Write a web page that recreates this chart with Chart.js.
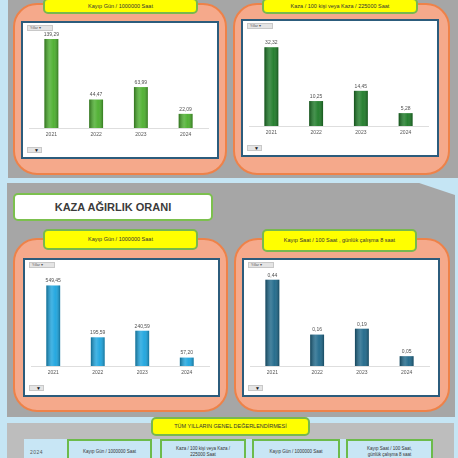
<!DOCTYPE html>
<html>
<head>
<meta charset="utf-8">
<script src="https://cdn.jsdelivr.net/npm/chart.js@4"></script>
<style>
  body { margin: 0; background: #c5e5f4; font-family: "Liberation Sans", Arial, sans-serif; }
  #page { position: relative; width: 458px; height: 458px; overflow: hidden; background: #c5e5f4; }
  .abs { position: absolute; box-sizing: border-box; }
  .panel { background: #a6a6a6; }
  .salmon { background: #f5a98b; border: 2px solid #ee8249; border-radius: 24px; }
  .yellow { background: #ffff00; border: 2px solid #78b84e; border-radius: 5px;
            font-size: 5.5px; color: #333; text-align: center; display: flex;
            align-items: center; justify-content: center; line-height: 1.2; }
  .white { background: #fff; border: 2px solid #2c5c7c; }
  .white canvas { position: absolute; left: 0; top: 0; }
  .btn { position: absolute; background: #e4e4e4; border: 1px solid #c8c8c8; font-size: 3.5px;
         color: #555; line-height: 5px; padding-left: 2px; box-sizing: border-box; }
  .flt { position: absolute; background: #e4e4e4; border: 1px solid #c8c8c8; width: 15px; height: 6px;
         font-size: 5px; line-height: 5px; text-align: right; color: #111; box-sizing: border-box; padding-right: 2px; }
  .green { background: #c8e6f5; border: 2px solid #6cbb4b; font-size: 4.5px; color: #333;
           text-align: center; display: flex; align-items: center; justify-content: center; line-height: 1.25; }
</style>
</head>
<body>
<div id="page">
  <div class="abs panel" style="left:8px;top:0;width:450px;height:178px;"></div>
  <div class="abs panel" style="left:7px;top:183px;width:448px;height:234px;clip-path:polygon(0 0,92% 0,100% 12px,100% 100%,0 100%);"></div>
  <div class="abs" style="left:7px;top:423px;width:447px;height:40px;background:#bdbdbd;"></div>

  <div class="abs salmon" style="left:13px;top:3px;width:214px;height:172px;"></div>
  <div class="abs salmon" style="left:233px;top:3px;width:217px;height:172px;"></div>
  <div class="abs salmon" style="left:13px;top:238px;width:215px;height:174px;"></div>
  <div class="abs salmon" style="left:234px;top:238px;width:216px;height:174px;"></div>

  <div class="abs white" id="w0" style="left:21px;top:21px;width:198px;height:138px;"><canvas id="c0" width="194" height="134"></canvas></div>
  <div class="abs white" id="w1" style="left:241px;top:19px;width:198px;height:138px;"><canvas id="c1" width="194" height="134"></canvas></div>
  <div class="abs white" id="w2" style="left:23px;top:258px;width:197px;height:139px;"><canvas id="c2" width="193" height="135"></canvas></div>
  <div class="abs white" id="w3" style="left:242px;top:258px;width:198px;height:139px;"><canvas id="c3" width="194" height="135"></canvas></div>

  <div class="abs yellow" id="t0" style="left:43px;top:-2px;width:155px;height:16px;"></div>
  <div class="abs yellow" id="t1" style="left:262px;top:-2px;width:156px;height:16px;"></div>
  <div class="abs yellow" id="t2" style="left:43px;top:229px;width:155px;height:21px;"></div>
  <div class="abs yellow" id="t3" style="left:262px;top:229px;width:155px;height:23px;"></div>

  <div class="abs" style="left:13px;top:193px;width:200px;height:28px;background:#fff;border:2px solid #7cc04e;border-radius:5px;
       font-family:'Liberation Sans Narrow','Liberation Sans',sans-serif;font-weight:bold;font-size:11px;color:#3b3b3b;
       display:flex;align-items:center;justify-content:center;">KAZA AĞIRLIK ORANI</div>

  <div class="abs" style="left:24px;top:439px;width:404px;height:30px;background:#c8e6f5;"></div>
  <div class="abs" style="left:30px;top:449px;font-size:5px;color:#555;letter-spacing:0.5px;">2024</div>
  <div class="abs green" id="g0" style="left:67px;top:439px;width:85px;height:26px;"></div>
  <div class="abs green" id="g1" style="left:160px;top:439px;width:86px;height:26px;"></div>
  <div class="abs green" id="g2" style="left:252px;top:439px;width:88px;height:26px;"></div>
  <div class="abs green" id="g3" style="left:346px;top:439px;width:87px;height:26px;"></div>
  <div class="abs yellow" style="left:151px;top:417px;width:159px;height:19px;font-size:5.5px;">TÜM YILLARIN GENEL DEĞERLENDİRMESİ</div>
</div>

<script>
var years = ['2021', '2022', '2023', '2024'];
var lostDaysPerMillion = [139.29, 44.47, 63.99, 22.09];
var accidentsPerHundred = [32.32, 10.25, 14.45, 5.28];
var severityDays = [549.45, 195.59, 240.59, 57.20];
var severityHours = [0.44, 0.16, 0.19, 0.05];

var chartTitles = [
    'Kayıp Gün / 1000000 Saat',
    'Kaza / 100 kişi veya Kaza / 225000 Saat',
    'Kayıp Gün / 1000000 Saat',
    'Kayıp Saat / 100 Saat , günlük çalışma 8 saat'
];
var summaryTitles = [
    'Kayıp Gün / 1000000 Saat',
    'Kaza / 100 kişi veya Kaza /<br>225000 Saat',
    'Kayıp Gün / 1000000 Saat',
    'Kayıp Saat / 100 Saat,<br>günlük çalışma 8 saat'
];

for (var t = 0; t < 4; t++) {
    document.getElementById('t' + t).textContent = chartTitles[t];
    document.getElementById('g' + t).innerHTML = summaryTitles[t];
}

// cylinder-ish shading + value labels over the bars
var barDecor = {
    id: 'barDecor',
    afterDatasetsDraw: function (chart) {
        var ctx = chart.ctx;
        var meta = chart.getDatasetMeta(0);
        var values = chart.data.datasets[0].data;
        meta.data.forEach(function (bar, i) {
            var left = bar.x - bar.width / 2;
            var g = ctx.createLinearGradient(left, 0, left + bar.width, 0);
            g.addColorStop(0, 'rgba(0,0,0,0.35)');
            g.addColorStop(0.4, 'rgba(255,255,255,0.18)');
            g.addColorStop(0.65, 'rgba(255,255,255,0.05)');
            g.addColorStop(1, 'rgba(0,0,0,0.3)');
            ctx.save();
            ctx.fillStyle = g;
            ctx.fillRect(left, bar.y, bar.width, bar.base - bar.y);
            ctx.fillStyle = '#505050';
            ctx.font = '5px "Liberation Sans"';
            ctx.textAlign = 'center';
            ctx.textBaseline = 'bottom';
            ctx.fillText(values[i].toFixed(2).replace('.', ','), bar.x, bar.y - 2);
            ctx.restore();
        });
    }
};

function makeChart(id, values, color, yMax, btnText) {
    var canvas = document.getElementById(id);
    var box = canvas.parentNode;
    var b = document.createElement('div');
    b.className = 'btn';
    b.style.left = '4px'; b.style.top = '2px'; b.style.width = '26px'; b.style.height = '6px';
    b.textContent = btnText;
    box.appendChild(b);
    var f = document.createElement('div');
    f.className = 'flt';
    f.style.left = '4px'; f.style.top = (canvas.height - 10) + 'px';
    f.textContent = '▼';
    box.appendChild(f);

    return new Chart(canvas.getContext('2d'), {
        type: 'bar',
        data: {
            labels: years,
            datasets: [{
                data: values,
                backgroundColor: color,
                categoryPercentage: 1,
                barPercentage: 0.31
            }]
        },
        options: {
            responsive: false,
            animation: false,
            layout: { padding: { left: 6, right: 9, top: 14, bottom: 15 } },
            plugins: { legend: { display: false }, tooltip: { enabled: false } },
            scales: {
                x: {
                    grid: { display: false, drawTicks: false },
                    border: { display: true, color: '#dedede', width: 1 },
                    ticks: { color: '#555', font: { size: 5, family: 'Liberation Sans' }, padding: 4 }
                },
                y: { display: false, min: 0, max: yMax }
            }
        },
        plugins: [barDecor]
    });
}

makeChart('c0', lostDaysPerMillion, '#4aae2c', 142.3, 'Yıllar ▾');
makeChart('c1', accidentsPerHundred, '#1c7a26', 37.4, 'Yıllar ▾');
makeChart('c2', severityDays, '#1ba4de', 628, 'Yıllar ▾');
makeChart('c3', severityHours, '#1d6789', 0.469, 'Yıllar ▾');
</script>
</body>
</html>
